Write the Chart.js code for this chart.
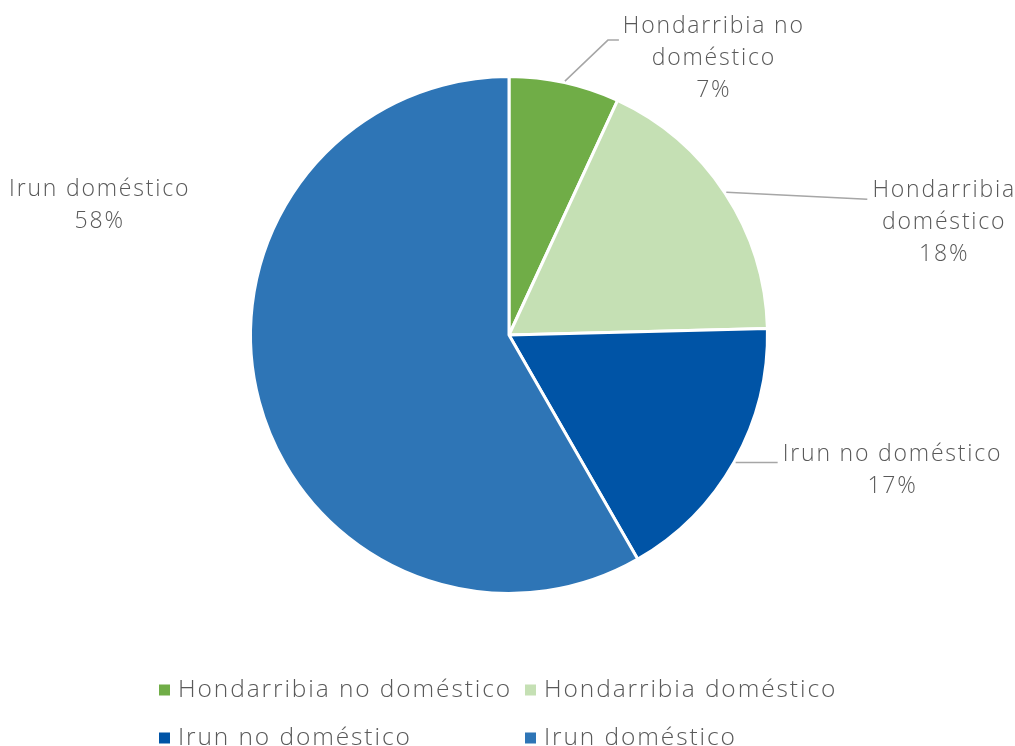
<!DOCTYPE html>
<html>
<head>
<meta charset="utf-8">
<script src="https://cdn.jsdelivr.net/npm/chart.js@4.4.0/dist/chart.umd.min.js"></script>
<style>
html,body{margin:0;padding:0;background:#fff;}
#wrap{width:1015px;height:746px;position:relative;}
</style>
</head>
<body>
<div id="wrap"><canvas id="c" width="1015" height="746"></canvas></div>
<script>
const categories = ["Hondarribia no doméstico", "Hondarribia doméstico", "Irun no doméstico", "Irun doméstico"];
const values = [6.9, 17.7, 17.1, 58.3];
const percentLabels = ["7%", "18%", "17%", "58%"];
const colors = ["#70AD47", "#C5E0B4", "#0054A6", "#2E75B6"];

// label layout (relative to the outer mid-point of each slice)
const labelLines = [["Hondarribia no", "doméstico", "7%"], ["Hondarribia", "doméstico", "18%"], ["Irun no doméstico", "17%"], ["Irun doméstico", "58%"]];
const labelLayout = [
  {leader: [[43, -41], [54, -41]], text: [148, -23]},
  {leader: [[141, 7]], text: [217, 30]},
  {leader: [[42, 0]], text: [156, 8]},
  {leader: null, text: [-159, -197]}
];

const FONT = "300 23px 'Open Sans', sans-serif";
const TEXT_COLOR = "#595959";

function spacedText(ctx, t, x, y, spacing, align) {
  ctx.letterSpacing = spacing + "px";
  if (align === "center") {
    const w = ctx.measureText(t).width - spacing;
    ctx.textAlign = "left";
    ctx.fillText(t, x - w / 2, y);
  } else {
    ctx.textAlign = "left";
    ctx.fillText(t, x, y);
  }
}

const labelPlugin = {
  id: 'pieLabels',
  afterDatasetsDraw(chart) {
    const ctx = chart.ctx;
    const meta = chart.getDatasetMeta(0);
    ctx.save();
    meta.data.forEach((arc, i) => {
      const p = arc.getProps(['x', 'y', 'startAngle', 'endAngle', 'outerRadius'], true);
      const mid = (p.startAngle + p.endAngle) / 2;
      const r = p.outerRadius + 1.5;
      const ox = p.x + Math.cos(mid) * r;
      const oy = p.y + Math.sin(mid) * r;
      const lay = labelLayout[i];
      if (lay.leader) {
        ctx.beginPath();
        ctx.strokeStyle = "#A6A6A6";
        ctx.lineWidth = 1.5;
        ctx.moveTo(ox, oy);
        lay.leader.forEach(pt => ctx.lineTo(ox + pt[0], oy + pt[1]));
        ctx.stroke();
      }
      ctx.fillStyle = TEXT_COLOR;
      ctx.font = FONT;
      ctx.textBaseline = "middle";
      const lines = labelLines[i];
      const lh = 32;
      const cx = ox + lay.text[0];
      const cy = oy + lay.text[1];
      const y0 = cy - (lines.length - 1) * lh / 2;
      lines.forEach((t, k) => spacedText(ctx, t, cx, y0 + k * lh, 1.8, "center"));
    });
    ctx.restore();
  }
};

const legendPlugin = {
  id: 'customLegend',
  afterDraw(chart) {
    const ctx = chart.ctx;
    ctx.save();
    ctx.font = "300 24.5px 'Open Sans', sans-serif";
    ctx.textBaseline = "middle";
    const colX = [159, 525];
    const rowY = [690, 738];
    categories.forEach((name, i) => {
      const x = colX[i % 2];
      const y = rowY[Math.floor(i / 2)];
      ctx.fillStyle = colors[i];
      ctx.fillRect(x, y - 5.5, 11, 11);
      ctx.fillStyle = TEXT_COLOR;
      spacedText(ctx, name, x + 19, y, 1.9, "left");
    });
    ctx.restore();
  }
};

new Chart(document.getElementById('c'), {
  type: 'pie',
  data: {
    labels: categories,
    datasets: [{
      data: values,
      backgroundColor: colors,
      borderColor: "#ffffff",
      borderWidth: 3
    }]
  },
  options: {
    responsive: false,
    animation: false,
    layout: { padding: { left: 249, top: 75, right: 246, bottom: 151 } },
    plugins: { legend: { display: false }, tooltip: { enabled: false } }
  },
  plugins: [labelPlugin, legendPlugin]
});
</script>
</body>
</html>
